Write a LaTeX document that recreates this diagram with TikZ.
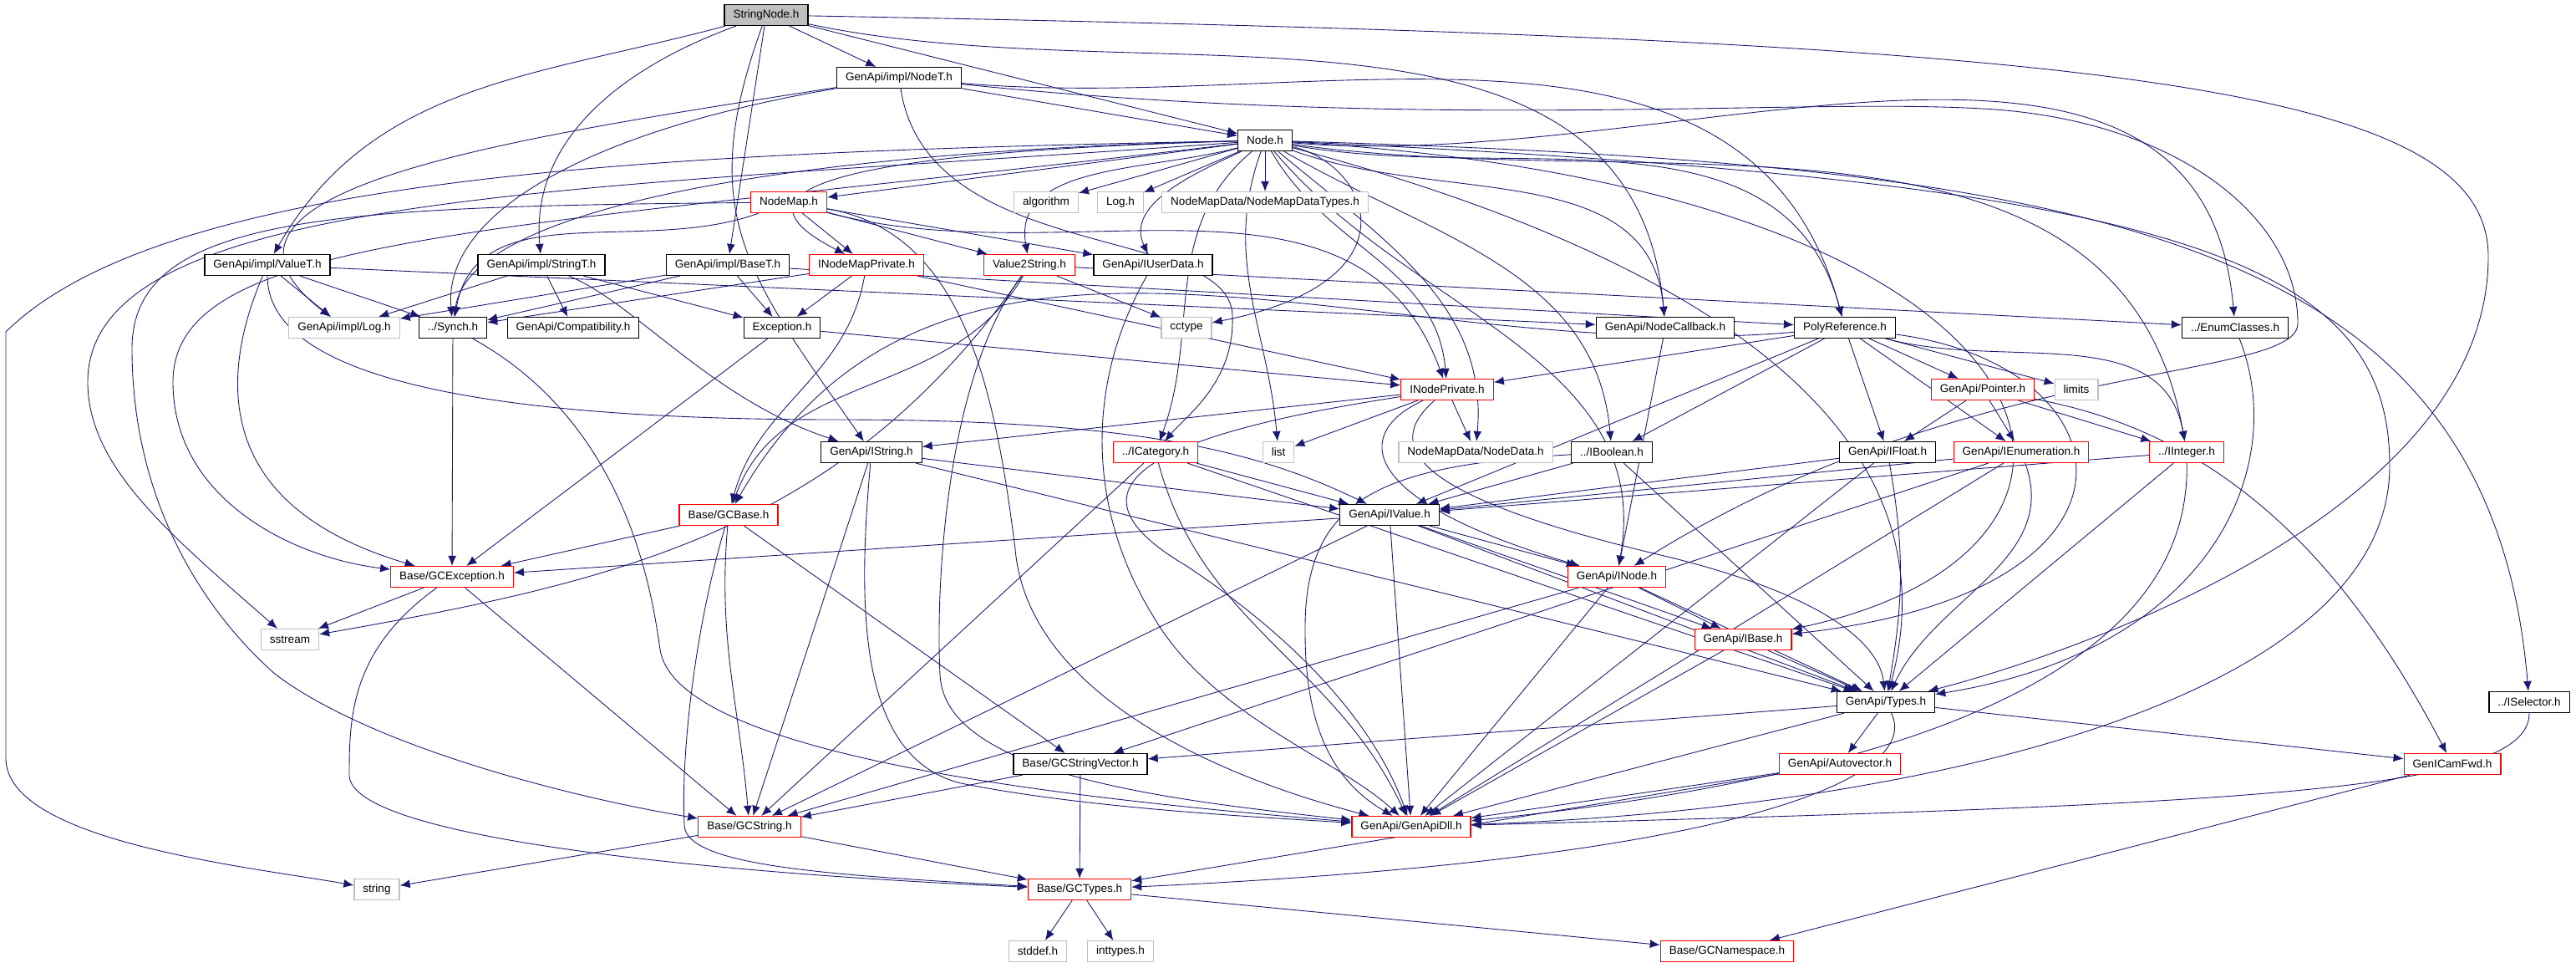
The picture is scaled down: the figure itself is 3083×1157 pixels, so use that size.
\documentclass[tikz,border=0pt]{standalone}
\usepackage{fontspec}
\setmainfont{Liberation Sans}
\usepackage{tikz}
\usetikzlibrary{arrows.meta}
\definecolor{edgeblue}{RGB}{25,25,112}
\definecolor{boxgray}{RGB}{191,191,191}
\pgfdeclarelayer{edges}
\pgfsetlayers{edges,main}
\tikzset{
	hfile/.style = {draw=black, fill=white, line width=0.7pt, minimum height=0.5cm,
		inner xsep=0.21cm, inner ysep=0pt},
	hred/.style = {hfile, draw=red},
	hsys/.style = {hfile, draw=boxgray},
	hroot/.style = {hfile, fill=boxgray},
	dep/.style = {draw=edgeblue, line width=0.5pt, -{Latex[length=0.24cm,width=0.2cm]}}
}
\begin{document}
\begin{tikzpicture}[x=0.02cm, y=0.02cm]
	\useasboundingbox (0,0) rectangle (3083,1157);
	\tikzstyle{every node}=[font=\fontsize{7.7}{9}\selectfont]
	\node [hroot] (root) at (917,1139) {StringNode.h};
	\node [hfile] (nodeT) at (1076,1064) {GenApi/impl/NodeT.h};
	\node [hfile] (node) at (1514,989) {Node.h};
	\node [hred] (nodemap) at (944,915) {NodeMap.h};
	\node [hsys] (algo) at (1252,915) {algorithm};
	\node [hsys] (logh) at (1341,915) {Log.h};
	\node [hsys] (nmdtypes) at (1514,915) {NodeMapData/NodeMapDataTypes.h};
	\node [hfile] (valueT) at (320,840) {GenApi/impl/ValueT.h};
	\node [hfile] (stringT) at (648,840) {GenApi/impl/StringT.h};
	\node [hfile] (baseT) at (871,840) {GenApi/impl/BaseT.h};
	\node [hred] (inmp) at (1037,840) {INodeMapPrivate.h};
	\node [hred] (v2s) at (1232,840) {Value2String.h};
	\node [hfile] (iuser) at (1380,840) {GenApi/IUserData.h};
	\node [hsys] (ilog) at (412,765) {GenApi/impl/Log.h};
	\node [hfile] (synch) at (542,765) {../Synch.h};
	\node [hfile] (compat) at (686,765) {GenApi/Compatibility.h};
	\node [hfile] (exc) at (936,765) {Exception.h};
	\node [hsys] (cctype) at (1420,765) {cctype};
	\node [hfile] (ncb) at (1993,765) {GenApi/NodeCallback.h};
	\node [hfile] (polyref) at (2208,765) {PolyReference.h};
	\node [hfile] (enumc) at (2675,765) {../EnumClasses.h};
	\node [hred] (inp) at (1732,691) {INodePrivate.h};
	\node [hred] (ptr) at (2373,691) {GenApi/Pointer.h};
	\node [hsys] (limits) at (2485,691) {limits};
	\node [hfile] (istring) at (1043,616) {GenApi/IString.h};
	\node [hred] (icat) at (1383,616) {../ICategory.h};
	\node [hsys] (list) at (1530,616) {list};
	\node [hsys] (ndata) at (1766,616) {NodeMapData/NodeData.h};
	\node [hfile] (ibool) at (1929,616) {../IBoolean.h};
	\node [hfile] (ifloat) at (2259,616) {GenApi/IFloat.h};
	\node [hred] (ienum) at (2419,616) {GenApi/IEnumeration.h};
	\node [hred] (iint) at (2617,616) {../IInteger.h};
	\node [hred] (gcbase) at (872,541) {Base/GCBase.h};
	\node [hfile] (ivalue) at (1663,541) {GenApi/IValue.h};
	\node [hred] (gcexc) at (541,467) {Base/GCException.h};
	\node [hred] (inode) at (1935,467) {GenApi/INode.h};
	\node [hsys] (sstream) at (347,392) {sstream};
	\node [hred] (ibase) at (2086,392) {GenApi/IBase.h};
	\node [hfile] (types) at (2257,317) {GenApi/Types.h};
	\node [hfile] (isel) at (3027,317) {../ISelector.h};
	\node [hfile] (gcsv) at (1293,243) {Base/GCStringVector.h};
	\node [hred] (autov) at (2202,243) {GenApi/Autovector.h};
	\node [hred] (fwd) at (2935,243) {GenICamFwd.h};
	\node [hred] (gcstr) at (897,168) {Base/GCString.h};
	\node [hred] (dll) at (1689,168) {GenApi/GenApiDll.h};
	\node [hsys] (string) at (451,93) {string};
	\node [hred] (gctypes) at (1292,93) {Base/GCTypes.h};
	\node [hsys] (stddef) at (1242,19) {stddef.h};
	\node [hsys] (inttypes) at (1341,19) {inttypes.h};
	\node [hred] (gcns) at (2067,19) {Base/GCNamespace.h};
	
	\begin{pgfonlayer}{edges}
	% StringNode.h
	\draw [dep] (root) -- (nodeT);
	\draw [dep] (root) -- (node);
	\draw [dep] (root) to[out=195,in=60] (valueT);
	\draw [dep] (root) to[out=200,in=95] (stringT);
	\draw [dep] (root) -- (baseT);
	\draw [dep] (root) to[out=250,in=125,looseness=1.2] (istring);
	\draw [dep] (root) to[out=-12,in=95] (ncb);
	\draw [dep] (root) .. controls (2500,1110) and (2978,1060) .. (2978,850) .. controls (2978,550) and (2500,380) .. (types);
	
	% GenApi/impl/NodeT.h
	\draw [dep] (nodeT) -- (node);
	\draw [dep] (nodeT) .. controls (600,990) and (200,930) .. (ilog);
	\draw [dep] (nodeT) .. controls (700,1000) and (530,900) .. (synch);
	\draw [dep] (nodeT) .. controls (1110,840) and (1470,890) .. (1475,780) .. controls (1478,700) and (1420,660) .. (icat);
	\draw [dep] (nodeT) to[out=-5,in=105] (polyref);
	\draw [dep] (nodeT) .. controls (1700,1000) and (2150,1040) .. (2372,1027) .. controls (2600,1015) and (2750,900) .. (2750,770) .. controls (2750,700) and (2350,730) .. (inode);
	
	% Node.h
	\draw [dep] (node) -- (nodemap);
	\draw [dep] (node) -- (algo);
	\draw [dep] (node) -- (logh);
	\draw [dep] (node) -- (nmdtypes);
	\draw [dep] (node) .. controls (1000,975) and (860,930) .. (inmp);
	\draw [dep] (node) to[out=195,in=100] (v2s);
	\draw [dep] (node) to[out=205,in=115] (iuser);
	\draw [dep] (node) .. controls (900,975) and (560,900) .. (synch);
	\draw [dep] (node) .. controls (1640,960) and (1700,820) .. (cctype);
	\draw [dep] (node) to[out=250,in=95] (list);
	\draw [dep] (node) to[out=-60,in=95] (inp);
	\draw [dep] (node) to[out=-40,in=85] (ndata);
	\draw [dep] (node) to[out=220,in=70] (icat);
	\draw [dep] (node) to[out=-30,in=95] (ibool);
	\draw [dep] (node) to[out=-20,in=95] (ncb);
	\draw [dep] (node) to[out=-10,in=105] (polyref);
	\draw [dep] (node) to[out=-5,in=95] (enumc);
	\draw [dep] (node) to[out=-8,in=100] (iint);
	\draw [dep] (node) .. controls (2500,960) and (2980,880) .. (isel);
	\draw [dep] (node) to[out=-50,in=80] (inode);
	\draw [dep] (node) .. controls (2500,930) and (2600,500) .. (ibase);
	\draw [dep] (node) to[out=-15,in=75] (types);
	\draw [dep] (node) .. controls (2600,940) and (2860,850) .. (2860,600) .. controls (2860,320) and (2300,190) .. (dll);
	\draw [dep] (node) .. controls (800,975) and (200,950) .. (7,760) -- (7,250) .. controls (7,150) and (300,120) .. (string);
	\draw [dep] (node) .. controls (700,930) and (105,930) .. (105,700) .. controls (105,600) and (200,520) .. (sstream);
	\draw [dep] (node) .. controls (600,880) and (207,880) .. (207,700) .. controls (207,560) and (350,490) .. (gcexc);
	
	% NodeMap.h
	\draw [dep] (nodemap) -- (inmp);
	\draw [dep] (nodemap) to[out=200,in=80] (synch);
	\draw [dep] (nodemap) -- (v2s);
	\draw [dep] (nodemap) -- (iuser);
	\draw [dep] (nodemap) to[out=-15,in=110] (inp);
	\draw [dep] (nodemap) .. controls (1150,880) and (1190,700) .. (1215,500) .. controls (1230,330) and (1450,230) .. (dll);
	\draw [dep] (nodemap) .. controls (400,910) and (158,900) .. (158,740) .. controls (158,550) and (250,420) .. (330,350) .. controls (450,260) and (700,200) .. (gcstr);
	
	% impl templates
	\draw [dep] (valueT) -- (ilog);
	\draw [dep] (valueT) -- (synch);
	\draw [dep] (valueT) .. controls (260,700) and (260,550) .. (gcexc);
	\draw [dep] (valueT) .. controls (320,700) and (600,655) .. (1000,655) .. controls (1350,655) and (1500,620) .. (ivalue);
	\draw [dep] (valueT) -- (ncb);
	\draw [dep] (stringT) -- (ilog);
	\draw [dep] (stringT) -- (compat);
	\draw [dep] (stringT) -- (exc);
	\draw [dep] (stringT) .. controls (760,795) and (850,680) .. (istring);
	\draw [dep] (baseT) -- (ilog);
	\draw [dep] (baseT) -- (synch);
	\draw [dep] (baseT) -- (exc);
	\draw [dep] (baseT) -- (polyref);
	\draw [dep] (inmp) -- (exc);
	\draw [dep] (inmp) -- (synch);
	\draw [dep] (inmp) to[out=-100,in=75] (gcbase);
	\draw [dep] (inmp) -- (inp);
	
	% Value2String.h
	\draw [dep] (v2s) to[out=235,in=10] (sstream);
	\draw [dep] (v2s) to[out=240,in=70] (gcbase);
	\draw [dep] (v2s) -- (cctype);
	\draw [dep] (v2s) .. controls (1130,700) and (1120,450) .. (1125,350) .. controls (1130,230) and (1400,200) .. (dll);
	\draw [dep] (v2s) -- (enumc);
	\draw [dep] (iuser) .. controls (1300,700) and (1300,550) .. (1380,420) .. controls (1450,300) and (1600,250) .. (dll);
	\draw [dep] (exc) -- (gcexc);
	\draw [dep] (exc) -- (inp);
	\draw [dep] (synch) -- (gcexc);
	\draw [dep] (synch) .. controls (750,650) and (780,450) .. (790,380) .. controls (810,250) and (1300,200) .. (dll);
	
	% PolyReference.h
	\draw [dep] (polyref) -- (inp);
	\draw [dep] (polyref) to[out=185,in=60] (gcbase);
	\draw [dep] (polyref) -- (ibool);
	\draw [dep] (polyref) -- (ivalue);
	\draw [dep] (polyref) -- (ifloat);
	\draw [dep] (polyref) -- (ienum);
	\draw [dep] (polyref) -- (ptr);
	\draw [dep] (polyref) -- (limits);
	\draw [dep] (polyref) to[out=-15,in=100] (iint);
	\draw [dep] (polyref) .. controls (2550,720) and (2600,450) .. (ibase);
	\draw [dep] (ptr) -- (ifloat);
	\draw [dep] (ptr) -- (ienum);
	\draw [dep] (ptr) -- (iint);
	\draw [dep] (ptr) .. controls (2650,640) and (2800,500) .. (fwd);
	\draw [dep] (enumc) .. controls (2740,600) and (2650,380) .. (types);
	\draw [dep] (ncb) -- (inode);
	
	% INodePrivate.h
	\draw [dep] (inp) -- (list);
	\draw [dep] (inp) -- (ndata);
	\draw [dep] (inp) -- (istring);
	\draw [dep] (inp) .. controls (1620,640) and (1620,560) .. (inode);
	\draw [dep] (inp) .. controls (1400,640) and (1250,580) .. (1420,480) .. controls (1600,360) and (1660,250) .. (dll);
	\draw [dep] (inp) .. controls (1650,620) and (1700,560) .. (2000,490) .. controls (2200,440) and (2250,380) .. (types);
	
	% interfaces
	\draw [dep] (istring) -- (ivalue);
	\draw [dep] (istring) -- (types);
	\draw [dep] (istring) -- (gcstr);
	\draw [dep] (istring) .. controls (1025,420) and (1030,250) .. (1150,220) .. controls (1300,190) and (1500,180) .. (dll);
	\draw [dep] (icat) -- (ivalue);
	\draw [dep] (icat) -- (gcstr);
	\draw [dep] (icat) to[out=-75,in=115] (dll);
	\draw [dep] (icat) -- (types);
	\draw [dep] (ibool) -- (ivalue);
	\draw [dep] (ibool) .. controls (1650,600) and (1560,560) .. (1562,400) .. controls (1562,280) and (1600,220) .. (dll);
	\draw [dep] (ibool) -- (types);
	\draw [dep] (ifloat) -- (ivalue);
	\draw [dep] (ifloat) -- (dll);
	\draw [dep] (ifloat) to[out=-80,in=80] (types);
	\draw [dep] (ienum) -- (ivalue);
	\draw [dep] (ienum) -- (gcsv);
	\draw [dep] (ienum) -- (dll);
	\draw [dep] (ienum) to[out=-70,in=65] (types);
	\draw [dep] (iint) -- (ivalue);
	\draw [dep] (iint) -- (types);
	\draw [dep] (iint) .. controls (2620,450) and (2500,250) .. (dll);
	\draw [dep] (ivalue) -- (gcexc);
	\draw [dep] (ivalue) -- (inode);
	\draw [dep] (ivalue) -- (ibase);
	\draw [dep] (ivalue) -- (types);
	\draw [dep] (ivalue) -- (dll);
	\draw [dep] (ivalue) -- (gcstr);
	\draw [dep] (inode) -- (ibase);
	\draw [dep] (inode) -- (types);
	\draw [dep] (inode) -- (dll);
	\draw [dep] (inode) -- (gcstr);
	\draw [dep] (ibase) -- (types);
	\draw [dep] (ibase) -- (dll);
	
	% Base and Types
	\draw [dep] (gcbase) -- (gcexc);
	\draw [dep] (gcbase) to[out=-95,in=95] (gcstr);
	\draw [dep] (gcbase) .. controls (830,400) and (815,250) .. (819,170) .. controls (820,120) and (1000,110) .. (gctypes);
	\draw [dep] (gcbase) -- (gcsv);
	\draw [dep] (gcexc) -- (sstream);
	\draw [dep] (gcexc) -- (gcstr);
	\draw [dep] (gcexc) .. controls (420,380) and (418,300) .. (418,230) .. controls (418,150) and (900,110) .. (gctypes);
	\draw [dep] (types) -- (gcsv);
	\draw [dep] (types) -- (autov);
	\draw [dep] (types) -- (dll);
	\draw [dep] (types) .. controls (2300,230) and (2100,130) .. (gctypes);
	\draw [dep] (types) -- (fwd);
	\draw [dep] (autov) -- (dll);
	\draw [dep] (autov) -- (gctypes);
	\draw [dep] (fwd) -- (gcns);
	\draw [dep] (isel) .. controls (3027,210) and (2700,195) .. (dll);
	\draw [dep] (gcsv) -- (gcstr);
	\draw [dep] (gcsv) -- (gctypes);
	\draw [dep] (gcstr) -- (string);
	\draw [dep] (gcstr) -- (gctypes);
	\draw [dep] (gctypes) -- (stddef);
	\draw [dep] (gctypes) -- (inttypes);
	\draw [dep] (gctypes) -- (gcns);
	\end{pgfonlayer}
\end{tikzpicture}
\end{document}
